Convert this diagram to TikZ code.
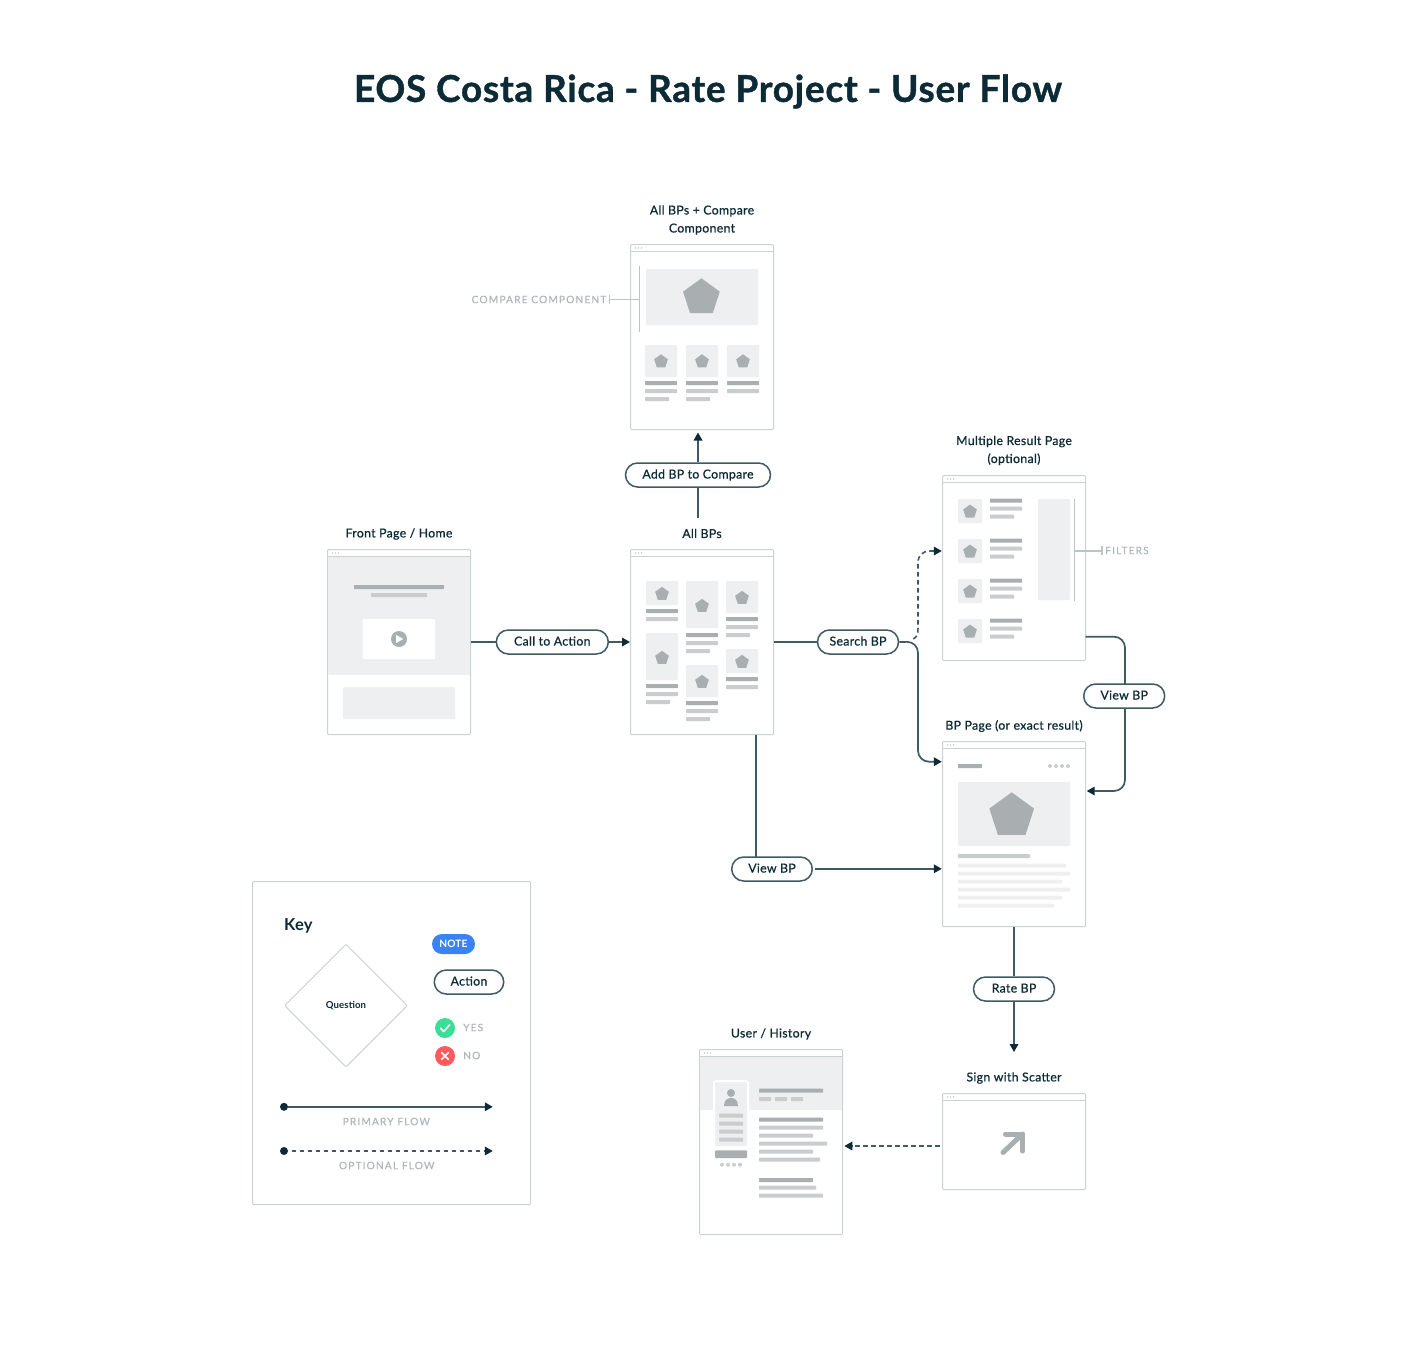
\documentclass[tikz,border=0pt]{standalone}
\usepackage{fontspec}
\setmainfont{Lato}
\newfontfamily\lblfont{Lato}[FakeBold=0.7,LetterSpace=2.6]
\newfontfamily\keyfont{Lato}[LetterSpace=1]
\newfontfamily\capfont{Lato}[FakeBold=0.2,LetterSpace=11]
\newfontfamily\titlefont{Lato}[LetterSpace=2,BoldFeatures={FakeBold=1}]
\usetikzlibrary{arrows.meta,shapes.misc,shapes.geometric,fit,calc}
\definecolor{ink}{HTML}{0D2B36}
\definecolor{wire}{HTML}{3F5A65}
\definecolor{edgegray}{HTML}{CBD2D2}
\definecolor{bgA}{HTML}{EEEFF0}
\definecolor{barA}{HTML}{A9AFB0}
\definecolor{barB}{HTML}{C9CDCD}
\definecolor{barC}{HTML}{EFEFEF}
\definecolor{annogray}{HTML}{BEC4C5}
\definecolor{capgray}{HTML}{AEB6B8}
\definecolor{noteblue}{HTML}{3B82F6}
\definecolor{yesgreen}{HTML}{3DDC97}
\definecolor{nored}{HTML}{FF5A5F}
\tikzset{
 frame/.style={draw=edgegray,line width=1pt,fill=white,rounded corners=1pt,inner sep=0pt},
 pill/.style={rounded rectangle,draw=wire,line width=1.5pt,fill=white,inner sep=0pt,minimum height=24pt,text=ink,text height=9.5pt,text depth=2.5pt,font=\lblfont\fontsize{12.3}{15}\selectfont},
 lbl/.style={text=ink,font=\lblfont\fontsize{12.3}{18}\selectfont,align=center,inner sep=0pt},
 captxt/.style={text=capgray,font=\capfont\fontsize{10.2}{12}\selectfont,inner sep=0pt},
 flow/.style={draw=wire,line width=1.7pt,rounded corners=11pt},
 flowto/.style={flow,-{Triangle[length=8pt,width=8.5pt,color=ink]}},
 opt/.style={draw=wire,line width=1.6pt,dash pattern=on 4.7pt off 3.3pt,-{Triangle[length=8pt,width=8.5pt,color=ink]}},
 anno/.style={draw=annogray,line width=1.6pt},
}
\newcommand{\wframe}[5]{%
 \coordinate (#1-a) at (#2,#3); \coordinate (#1-b) at (#4,#5);
 \node[frame,fit=(#1-a)(#1-b)] (#1) {};
}
\newcommand{\wbar}[4]{% x1 y1 x2 bar-line-y
 \draw[edgegray,line width=1pt] (#1,#4) -- (#3,#4);
 \fill[edgegray] (#1+5,#2+3.4) circle (.9) (#1+8,#2+3.4) circle (.9) (#1+11,#2+3.4) circle (.9);
}
\newcommand{\hb}[4]{\fill[#1,rounded corners=.6pt] (#2,#3-2) rectangle (#4,#3+2);}
\newcommand{\blk}[5]{\fill[#1,rounded corners=1pt] (#2,#3) rectangle (#4,#5);}
\newcommand{\pent}[3]{\fill[barA,shift={(#1,#2)}] (-90:#3) -- (-18:#3) -- (54:#3) -- (126:#3) -- (198:#3) -- cycle;}
\newcommand{\gdot}[3]{\fill[barB] (#1,#2) circle (#3);}
\begin{document}
\begin{tikzpicture}[x=1pt,y=-1pt]
\useasboundingbox[fill=white] (0,0) rectangle (1424,1362);

\node[text=ink,font=\titlefont\bfseries\fontsize{37}{44}\selectfont,inner sep=0pt] (title) at (708,91.5) {EOS Costa Rica - Rate Project - User Flow};

% ---- All BPs + compare
\wframe{cmp}{630.5}{244.5}{773.5}{429.5}
\wbar{630.5}{244.5}{773.5}{251.3}
\blk{bgA}{646}{269}{758}{325}
\pent{701.4}{297.6}{19.3}
\foreach \x in {645,686,727}{\blk{bgA}{\x}{345}{\x+32}{377}\pent{\x+16}{361.5}{7.2}\hb{barA}{\x}{383}{\x+32}\hb{barB}{\x}{391}{\x+32}}
\hb{barB}{645}{399}{669}\hb{barB}{686}{399}{710}
\node[lbl] (cmpt) at (702,220) {All BPs + Compare\\Component};
\node[captxt,anchor=east] (cmpcap) at (606.5,299.5) {COMPARE COMPONENT};
\coordinate (cmpA) at (639.3,299.3); \coordinate (cmpB) at (609.3,299.3);
\draw[anno] (639.3,266) -- (639.3,332);
\draw[anno] (cmpA) -- (cmpB);
\draw[anno] (609.3,295.3) -- (609.3,303.6);

% ---- Front page
\wframe{home}{327.5}{549.5}{470.5}{734.5}
\fill[bgA] (328,556.7) rectangle (470,675);
\wbar{327.5}{549.5}{470.5}{556.7}
\hb{barA}{354}{587}{444}\hb{barB}{371}{595}{427}
\blk{white}{362.7}{619}{435}{659}
\fill[barA] (399,639) circle (8);
\fill[white] (396.2,635) -- (403.2,639) -- (396.2,643) -- cycle;
\blk{bgA}{343}{687}{455}{719}
\node[lbl] (homet) at (399,534) {Front Page / Home};

% ---- All BPs
\wframe{all}{630.5}{549.5}{773.5}{734.5}
\wbar{630.5}{549.5}{773.5}{556.7}
\blk{bgA}{646}{581}{678}{605}\pent{662}{594}{7.2}\hb{barA}{646}{611}{678}\hb{barB}{646}{619}{678}
\blk{bgA}{646}{633}{678}{680}\pent{662}{658}{7.2}\hb{barA}{646}{686}{678}\hb{barB}{646}{694}{678}\hb{barB}{646}{702}{670}
\blk{bgA}{686}{581}{718}{628}\pent{702}{606}{7.2}\hb{barA}{686}{635}{718}\hb{barB}{686}{643}{718}\hb{barB}{686}{651}{710}
\blk{bgA}{686}{665}{718}{697}\pent{702}{682}{7.2}\hb{barA}{686}{703}{718}\hb{barB}{686}{711}{718}\hb{barB}{686}{719}{710}
\blk{bgA}{726}{581}{758}{613}\pent{742}{598}{7.2}\hb{barA}{726}{619}{758}\hb{barB}{726}{627}{758}\hb{barB}{726}{635}{750}
\blk{bgA}{726}{649}{758}{673}\pent{742}{662}{7.2}\hb{barA}{726}{679}{758}\hb{barB}{726}{687}{758}
\node[lbl] (allt) at (702,533.5) {All BPs};

% ---- Multiple result
\wframe{mrp}{942.5}{475.5}{1085.5}{660.5}
\wbar{942.5}{475.5}{1085.5}{482.3}
\foreach \y in {499,539,579,619}{\blk{bgA}{958}{\y}{982}{\y+24}\pent{970}{\y+12.7}{7.2}\hb{barA}{990}{\y+1.7}{1022}\hb{barB}{990}{\y+9.7}{1022}\hb{barB}{990}{\y+17.7}{1014}}
\blk{bgA}{1038}{499}{1070}{600}
\draw[anno] (1074.3,499) -- (1074.3,601);
\coordinate (filA) at (1074.3,550.7); \coordinate (filB) at (1101.7,550.7);
\draw[anno] (filA) -- (filB);
\draw[anno] (1101.7,546.3) -- (1101.7,555.3);
\node[captxt,anchor=west] (filcap) at (1105,550.5) {FILTERS};
\node[lbl] (mrpt) at (1014,450.5) {Multiple Result Page\\(optional)};

% ---- BP page
\wframe{bp}{942.5}{741.5}{1085.5}{926.5}
\wbar{942.5}{741.5}{1085.5}{748.3}
\hb{barA}{958}{766}{982}
\foreach \x in {1050,1056,1062,1068}{\gdot{\x}{766}{2}}
\blk{bgA}{958}{782}{1070}{846}
\pent{1011.7}{815.8}{23.5}
\hb{barB}{958}{856}{1030}
\hb{barC}{958}{865.7}{1066}\hb{barC}{958}{873.7}{1070}\hb{barC}{958}{881.7}{1062}\hb{barC}{958}{889.7}{1070}\hb{barC}{958}{897.7}{1062}\hb{barC}{958}{905.7}{1054}
\node[lbl] (bpt) at (1014,726) {BP Page (or exact result)};

% ---- User history
\wframe{usr}{699.5}{1049.5}{842.5}{1234.5}
\fill[bgA] (700,1056.7) rectangle (842,1110);
\wbar{699.5}{1049.5}{842.5}{1056.7}
\fill[bgA,draw=white,line width=2pt,rounded corners=1.5pt] (714,1081) rectangle (748,1147);
\fill[barA] (731,1093) circle (4);
\fill[barA] (724,1106) .. controls (724,1100) and (727.5,1098) .. (731,1098) .. controls (734.5,1098) and (738,1100) .. (738,1106) -- cycle;
\foreach \y in {1115.7,1123.7,1131.7,1139.7}{\hb{barB}{719}{\y}{743}}
\blk{barA}{715}{1150.3}{747}{1158}
\foreach \x in {722,728,734,740}{\gdot{\x}{1164.7}{2}}
\hb{barA}{759}{1090.7}{823}
\hb{barB}{759}{1099}{771}\hb{barB}{775}{1099}{787}\hb{barB}{791}{1099}{803}
\hb{barA}{759}{1119.7}{823}\hb{barB}{759}{1127.7}{823}\hb{barB}{759}{1135.7}{813}\hb{barB}{759}{1143.7}{827}\hb{barB}{759}{1151.7}{813}\hb{barB}{759}{1159.7}{820}
\hb{barA}{759}{1180}{813}\hb{barB}{759}{1187.7}{816}\hb{barB}{759}{1195.7}{823}
\node[lbl] (usrt) at (771,1034) {User / History};

% ---- Sign with scatter
\wframe{sig}{942.5}{1093.5}{1085.5}{1189.5}
\wbar{942.5}{1093.5}{1085.5}{1100.7}
\draw[barA,line width=5pt,line cap=round,line join=round] (1003,1152.5) -- (1022.5,1134);
\draw[barA,line width=5pt,line cap=round,line join=round] (1005.5,1134) -- (1022.5,1134) -- (1022.5,1151);
\node[lbl] (sigt) at (1014,1078) {Sign with Scatter};

% ---- Pills
\node[pill,minimum width=145pt] (addc) at (698,475) {Add BP to Compare};
\node[pill,minimum width=112pt] (cta) at (552.3,642) {Call to Action};
\node[pill,minimum width=81pt] (srch) at (858,642) {Search BP};
\node[pill,minimum width=81pt] (vbp1) at (1124.2,696) {View BP};
\node[pill,minimum width=80.6pt] (vbp2) at (772,869) {View BP};
\node[pill,minimum width=81pt] (rate) at (1014,989) {Rate BP};

% ---- Connectors
\coordinate (cmpIn) at (698,432.5);
\draw[flowto] (addc.north) -- (cmpIn);
\coordinate (addDown) at (698,518);
\draw[flow] (addc.south) -- (addDown);
\draw[flow] (home.east |- cta) -- (cta.west);
\draw[flowto] (cta.east) -- (all.west |- cta);
\draw[flow] (all.east |- srch) -- (srch.west);
\coordinate (srchMid) at (918,641.7);
\coordinate (bpIn) at (941.8,761.7);
\draw[flowto] (srch.east) -- (srchMid) -- (918,761.7) -- (bpIn);
\coordinate (dashS) at (913.3,639);
\coordinate (mrpIn) at (941.8,551);
\draw[opt] (dashS) .. controls (917,637) and (918,634) .. (918,628) -- (918,563) .. controls (918,555) and (923,551) .. (930,551) -- (mrpIn);
\coordinate (mrpOut) at (1085.5,636.7);
\draw[flow] (mrpOut) -- (1125,636.7) -- (1125,684);
\coordinate (bpIn2) at (1086.7,791);
\draw[flowto] (1125,708) -- (1125,791) -- (bpIn2);
\draw[flow] (756,734.5) -- (756,856.5);
\coordinate (v2S) at (815,868.8);
\coordinate (bpIn3) at (941.8,868.8);
\draw[flowto] (v2S) -- (bpIn3);
\draw[flow] (bp.south) -- (rate.north);
\coordinate (rateEnd) at (1014,1052);
\draw[flowto] (rate.south) -- (rateEnd);
\coordinate (sigOut) at (940,1146);
\coordinate (usrIn) at (844.3,1146);
\draw[opt] (sigOut) -- (usrIn);

% ---- Key
\wframe{key}{252.5}{881.5}{530.5}{1204.5}
\node[text=ink,anchor=west,inner sep=0pt,font=\keyfont\bfseries\fontsize{16.5}{20}\selectfont] (keyt) at (284,925.5) {Key};
\node[diamond,aspect=1,draw=edgegray,line width=1pt,inner sep=0pt,minimum size=123pt,rounded corners=1pt,text=ink,font=\keyfont\bfseries\fontsize{9.6}{12}\selectfont] (q) at (346,1005.5) {\raisebox{-1pt}{Question}};
\node[rounded rectangle,inner sep=0pt,minimum width=43pt,minimum height=20pt,fill=noteblue,text=white,font=\keyfont\bfseries\fontsize{10.2}{12}\selectfont] (note) at (453.5,944) {NOTE};
\node[pill,minimum width=69.5pt] (act) at (469,982) {Action};
\node[circle,fill=yesgreen,minimum size=20pt,inner sep=0pt] (yes) at (445,1028) {};
\draw[white,line width=1.6pt,line cap=round,line join=round] (440.7,1028.3) -- (443.8,1031.5) -- (449.7,1024.7);
\node[circle,fill=nored,minimum size=20pt,inner sep=0pt] (no) at (445,1056) {};
\draw[white,line width=1.6pt,line cap=round] (441.7,1052.7) -- (448.3,1059.3) (448.3,1052.7) -- (441.7,1059.3);
\node[captxt,anchor=west] (yest) at (463,1027.5) {YES};
\node[captxt,anchor=west] (not) at (463,1055.5) {NO};
\node[circle,fill=ink,minimum size=8pt,inner sep=0pt] (pd) at (284,1106.8) {};
\coordinate (pe) at (492.8,1106.8);
\draw[flowto] (pd) -- (pe);
\node[captxt] (pt) at (386.3,1121.5) {PRIMARY FLOW};
\node[circle,fill=ink,minimum size=8pt,inner sep=0pt] (od) at (284,1151) {};
\coordinate (os) at (291.5,1151);
\coordinate (oe) at (492.8,1151);
\draw[opt] (os) -- (oe);
\node[captxt] (ot) at (386.7,1165.5) {OPTIONAL FLOW};
\end{tikzpicture}
\end{document}
